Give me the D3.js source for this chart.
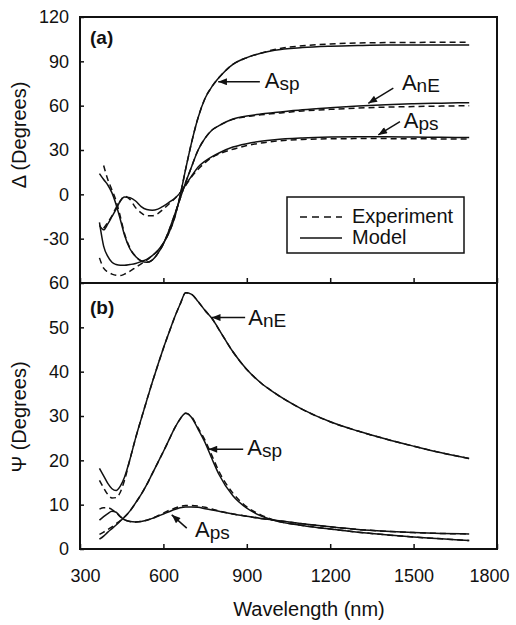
<!DOCTYPE html>
<html><head><meta charset="utf-8">
<script src="https://cdn.jsdelivr.net/npm/d3@7"></script>
<style>
body{margin:0;background:#fff}
svg{display:block}
text{font-family:"Liberation Sans",Arial,Helvetica,sans-serif;fill:#111}
</style>
</head><body>
<svg id="c" width="516" height="625"></svg>
<script>
// ---------- data ----------
const wavelength = [370,385,400,415,430,445,460,480,500,520,540,560,580,600,620,640,660,680,700,725,750,775,800,850,900,950,1000,1100,1200,1300,1400,1500,1600,1700];

// (a) Delta (degrees)
const deltaAspModel = [-19,-35,-42,-46,-47.5,-48,-48,-47.5,-46.8,-45.5,-44,-41.5,-38,-33,-26,-16,-1,17,34,52,65,73,79,88,92.5,95.5,97.5,99.3,100.2,100.7,101,101,101,101];
const deltaAspExp   = [-43,-50,-52.5,-54,-54.8,-55,-54,-52,-49.5,-47,-44.5,-41.5,-38,-33,-26,-16,-1,17,34,52,65,73,79,88,92.5,95.5,98,100.5,101.8,102.4,102.7,102.8,102.9,103];
const deltaAnEModel = [14,10,6.3,1,-7,-17,-27.5,-37,-42,-45,-46,-44.5,-40,-33.5,-24.5,-14,-3,8,18,30,38,43.5,46.5,51,53,54.3,55.3,57.2,58.6,59.8,60.7,61.3,61.7,62];
const deltaAnEExp   = [null,19.5,10,3,-4.5,-15,-26.5,-36.5,-42,-45,-46,-44.5,-40,-33.5,-24.5,-14,-3,8,18,30,38,43.5,46.5,50.7,52.6,53.8,54.7,56.4,57.5,58.4,59,59.4,59.7,60];
const deltaApsModel = [-21,-24,-20,-15,-10,-4.5,-1.8,-2.3,-4.5,-8.3,-10.3,-10.8,-10,-8,-5.5,-2.8,1,6.5,12,18.5,22.5,25.5,28,32,34.3,35.9,37,38.2,38.8,39,39,38.8,38.6,38.4];
const deltaApsExp   = [null,-23,-19,-14.5,-9,-4.5,-1.3,-3.5,-9,-12.5,-14.5,-14.5,-13,-10,-6.5,-3,1,6,11.5,17,21.5,25,27.3,30.5,33,34.7,35.9,37.1,37.6,37.7,37.7,37.6,37.5,37.4];

// (b) Psi (degrees)
const psiAnEModel = [18.2,16.5,14.8,13.6,13.2,14.2,16.2,20.3,25,29.3,33.5,37.6,41.5,45.3,48.8,52.2,55.2,57.8,57.5,55.8,53.8,52,49.5,44.5,40.5,37.5,35.2,31.5,28.7,26.6,24.8,23.2,21.7,20.4];
const psiAnEExp   = [15.5,13.8,12.3,11.5,11.6,12.8,15.5,20.3,25,29.3,33.5,37.6,41.5,45.3,48.8,52.2,55.2,57.8,57.5,55.8,53.8,52,49.5,44.5,40.5,37.5,35.2,31.5,28.7,26.6,24.8,23.2,21.7,20.4];
const psiAspModel = [2.2,2.9,3.8,4.6,5.4,6.3,7.2,8.6,10.4,12.3,14.5,17,19.5,22,24.6,27.2,29.3,30.6,29.8,27,24,20.3,16.8,12,9.2,7.5,6.4,5.3,4.5,3.8,3.2,2.7,2.3,1.9];
const psiAspExp   = [3.3,3.8,4.4,5,5.7,6.4,7.2,8.6,10.4,12.3,14.5,17,19.5,22,24.6,27.2,29.3,30.6,29.9,27.3,24.5,21,17.5,12.6,9.5,7.7,6.5,5.3,4.5,3.8,3.2,2.7,2.3,1.9];
const psiApsModel = [6.5,7.3,8,8.5,8.3,7.3,6.6,6.2,6.1,6.2,6.5,6.9,7.4,7.9,8.4,8.9,9.3,9.5,9.5,9.4,9.1,8.8,8.5,7.9,7.4,6.9,6.5,5.7,5,4.4,4,3.7,3.5,3.4];
const psiApsExp   = [9,9.3,9.3,8.9,8.2,7.3,6.6,6.2,6.1,6.2,6.5,6.9,7.5,8.1,8.7,9.2,9.6,9.8,9.8,9.7,9.4,9,8.6,7.9,7.4,6.9,6.5,5.7,5,4.4,4,3.7,3.5,3.4];

// ticks
const xTicks = [300,600,900,1200,1500,1800];
const deltaTicks = [120,90,60,30,0,-30];
const psiTicks = [60,50,40,30,20,10,0];

// annotations (data units): [label, subscript, tipX, tipY, tailX, tailY, textX, textY]
const deltaNotes = [
  ["A","sp", 797,76.2, 947,76.2, 965,72],
  ["A","nE", 1337,61.6, 1427,71.8, 1458,70.6],
  ["A","ps", 1373,40.2, 1451,49.2, 1465,44.7]
];
const psiNotes = [
  ["A","nE", 774,52.2, 894,52.2, 905,50.5],
  ["A","sp", 762,22.5, 887,22.5, 902,21.2],
  ["A","ps", 630,7.7, 684,4.7, 714,2.8]
];
const legendItems = ["Experiment","Model"];

// ---------- chart ----------
const svg = d3.select("#c");
const L = 80, R = 497, T1 = 17, B1 = 283, B2 = 549;
const x  = d3.scaleLinear().domain([300,1800]).range([L,R]);
const yD = d3.scaleLinear().domain([-60,120]).range([B1,T1]);
const yP = d3.scaleLinear().domain([0,60]).range([B2,B1]);

svg.append("defs").append("marker")
  .attr("id","ah").attr("viewBox","0 0 10 8").attr("refX",10).attr("refY",4)
  .attr("markerWidth",10).attr("markerHeight",7).attr("markerUnits","userSpaceOnUse")
  .attr("orient","auto")
  .append("path").attr("d","M0,0L10,4L0,8Z").attr("fill","#111");

function drawSeries(ys, values, dashed) {
  const line = d3.line()
    .defined(d => d[1] != null)
    .x(d => x(d[0])).y(d => ys(d[1]))
    .curve(d3.curveMonotoneX);
  svg.append("path")
    .datum(wavelength.map((w,i) => [w, values[i]]))
    .attr("d", line).attr("fill","none")
    .attr("stroke","#111").attr("stroke-width",1.5)
    .attr("stroke-dasharray", dashed ? "6,4" : null);
}

[deltaAspExp, deltaAnEExp, deltaApsExp].forEach(v => drawSeries(yD, v, true));
[deltaAspModel, deltaAnEModel, deltaApsModel].forEach(v => drawSeries(yD, v, false));
[psiAnEExp, psiAspExp, psiApsExp].forEach(v => drawSeries(yP, v, true));
[psiAnEModel, psiAspModel, psiApsModel].forEach(v => drawSeries(yP, v, false));

function styleAxis(g){
  g.select(".domain").remove();
  g.selectAll(".tick line").attr("stroke","#111").attr("stroke-width",1.5);
  g.selectAll("text").attr("font-size",18).attr("font-family",null).attr("fill","#111");
  g.attr("font-family",null).attr("font-size",null);
}

svg.append("g").attr("transform",`translate(${L},0)`)
  .call(d3.axisLeft(yD).tickValues(deltaTicks).tickSize(-4).tickPadding(11).tickFormat(d => String(d)))
  .call(styleAxis);
svg.append("g").attr("transform",`translate(${L},0)`)
  .call(d3.axisLeft(yP).tickValues(psiTicks).tickSize(-4).tickPadding(11).tickFormat(d => String(d)))
  .call(styleAxis);
svg.append("g").attr("transform",`translate(0,${B1})`)
  .call(d3.axisBottom(x).tickValues(xTicks).tickSize(-5).tickFormat(""))
  .call(styleAxis);
const xb = svg.append("g").attr("transform",`translate(0,${B2})`)
  .call(d3.axisBottom(x).tickValues(xTicks).tickSize(-5).tickPadding(20).tickFormat(d => String(d)))
  .call(styleAxis);
// nudge the edge labels inward as in the reference
xb.selectAll(".tick text").attr("dx", d => d === 300 ? 5 : d === 1800 ? -8 : 0);

// frame
svg.append("rect").attr("x",L).attr("y",T1).attr("width",R-L).attr("height",B2-T1)
  .attr("fill","none").attr("stroke","#111").attr("stroke-width",2);
svg.append("line").attr("x1",L).attr("x2",R).attr("y1",B1).attr("y2",B1)
  .attr("stroke","#111").attr("stroke-width",2);

// axis titles
svg.append("text").attr("transform","translate(26,135) rotate(-90)")
  .attr("text-anchor","middle").attr("font-size",20).text("\u0394 (Degrees)");
svg.append("text").attr("transform","translate(26,417) rotate(-90)")
  .attr("text-anchor","middle").attr("font-size",20).text("\u03A8 (Degrees)");
svg.append("text").attr("x",309).attr("y",616)
  .attr("text-anchor","middle").attr("font-size",20).text("Wavelength (nm)");

// panel labels
svg.append("text").attr("x",90).attr("y",44).attr("font-size",19).attr("font-weight","bold").text("(a)");
svg.append("text").attr("x",90).attr("y",314).attr("font-size",19).attr("font-weight","bold").text("(b)");

// annotations
function annotate(ys, notes){
  notes.forEach(n => {
    svg.append("line")
      .attr("x1",x(n[4])).attr("y1",ys(n[5]))
      .attr("x2",x(n[2])).attr("y2",ys(n[3]))
      .attr("stroke","#111").attr("stroke-width",1.5)
      .attr("marker-end","url(#ah)");
    const t = svg.append("text").attr("x",x(n[6])).attr("y",ys(n[7])).attr("font-size",22).text(n[0]);
    t.append("tspan").attr("font-size",19).attr("dy",2).text(n[1]);
  });
}
annotate(yD, deltaNotes);
annotate(yP, psiNotes);

// legend
const lg = svg.append("g");
lg.append("rect").attr("x",287).attr("y",197).attr("width",177).attr("height",56)
  .attr("fill","#fff").attr("stroke","#111").attr("stroke-width",1.5);
legendItems.forEach((name,i) => {
  const yy = 217 + i*21;
  lg.append("line").attr("x1",300).attr("x2",342).attr("y1",yy).attr("y2",yy)
    .attr("stroke","#111").attr("stroke-width",1.5)
    .attr("stroke-dasharray", i === 0 ? "7,5" : null);
  lg.append("text").attr("x",352).attr("y",yy + 6).attr("font-size",20).text(name);
});
</script>
</body></html>
